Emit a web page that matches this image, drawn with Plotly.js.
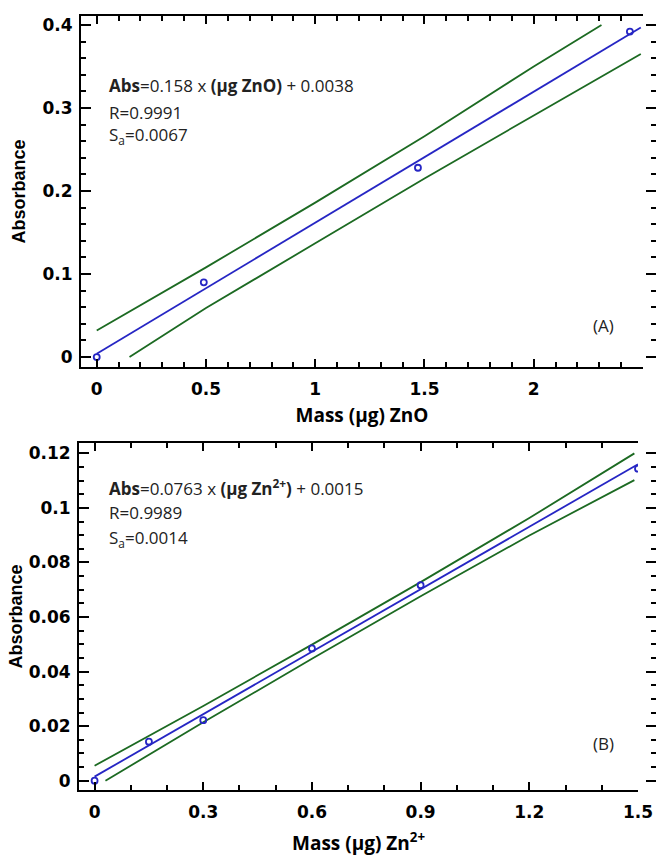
<!DOCTYPE html>
<html>
<head>
<meta charset="utf-8">
<script src="https://cdn.plot.ly/plotly-3.0.1.min.js"></script>
<style>html,body{margin:0;padding:0;background:#fff;}#chart{width:656px;height:860px;}</style>
</head>
<body>
<div id="chart"></div>
<script>
// ---- Panel (A): ZnO ----
const massA = [0, 0.49, 1.47, 2.44];
const absA = [0.000, 0.090, 0.228, 0.392];
const fitAx = [0, 2.49];
const fitAy = [0.004, 0.397];
const upperAx = [0, 0.5, 1.0, 1.5, 2.0, 2.31];
const upperAy = [0.032, 0.108, 0.186, 0.266, 0.350, 0.400];
const lowerAx = [0.15, 0.5, 1.0, 1.5, 2.0, 2.49];
const lowerAy = [0.000, 0.059, 0.137, 0.215, 0.291, 0.365];

// ---- Panel (B): Zn2+ ----
const massB = [0, 0.15, 0.3, 0.6, 0.9, 1.5];
const absB = [0.0000, 0.0143, 0.0222, 0.0485, 0.0717, 0.1144];
const fitBx = [0, 1.5];
const fitBy = [0.0015, 0.1160];
const upperBx = [0, 0.3, 0.6, 0.9, 1.2, 1.49];
const upperBy = [0.0055, 0.0274, 0.0499, 0.0728, 0.0963, 0.1200];
const lowerBx = [0.03, 0.3, 0.6, 0.9, 1.2, 1.49];
const lowerBy = [0.0000, 0.0214, 0.0447, 0.0676, 0.0899, 0.1102];

const eqA = ['<b>Abs</b>=0.158 x <b>(μg ZnO)</b> + 0.0038', 'R=0.9991', 'S<sub>a</sub>=0.0067'];
const eqB = ['<b>Abs</b>=0.0763 x <b>(μg Zn<sup>2+</sup>)</b> + 0.0015', 'R=0.9989', 'S<sub>a</sub>=0.0014'];
const panelLabels = ['(A)', '(B)'];

const BLUE = '#2626c4';
const GREEN = '#1c6a22';
const TICK = '#000';
const W = 656, H = 860;

function line(x, y, xa, ya, color) {
  return {x: x, y: y, xaxis: xa, yaxis: ya, type: 'scatter', mode: 'lines',
          line: {color: color, width: 1.8}, hoverinfo: 'skip', showlegend: false};
}
function pts(x, y, xa, ya) {
  return {x: x, y: y, xaxis: xa, yaxis: ya, type: 'scatter', mode: 'markers',
          marker: {symbol: 'circle-open', size: 6, color: BLUE, line: {width: 1.8, color: BLUE}},
          showlegend: false};
}

const traces = [
  line(upperAx, upperAy, 'x', 'y', GREEN),
  line(lowerAx, lowerAy, 'x', 'y', GREEN),
  line(fitAx, fitAy, 'x', 'y', BLUE),
  pts(massA, absA, 'x', 'y'),
  line(upperBx, upperBy, 'x2', 'y2', GREEN),
  line(lowerBx, lowerBy, 'x2', 'y2', GREEN),
  line(fitBx, fitBy, 'x2', 'y2', BLUE),
  pts(massB, absB, 'x2', 'y2'),
  {x: [], y: [], xaxis: 'x', yaxis: 'y3', type: 'scatter', showlegend: false},
  {x: [], y: [], xaxis: 'x2', yaxis: 'y4', type: 'scatter', showlegend: false}
];

const tickFont = {family: 'DejaVu Sans', size: 17, color: '#000', weight: 'bold'};
const xTitleFont = {family: 'Open Sans', size: 19, color: '#000', weight: 'bold'};
const yTitleFont = {family: 'Liberation Sans', size: 18, color: '#000', weight: 'bold'};

function xax(domain, range, dtick, mdtick, title, anchor, standoff) {
  return {domain: domain, range: range, anchor: anchor, dtick: dtick, tick0: 0,
          showline: true, linecolor: '#000', linewidth: 2, mirror: 'ticks',
          ticks: 'inside', ticklen: 8, tickwidth: 2, tickcolor: TICK,
          minor: {dtick: mdtick, tick0: 0, ticks: 'inside', ticklen: 5, tickwidth: 2, tickcolor: TICK, showgrid: false},
          showgrid: false, zeroline: false, tickfont: tickFont, ticklabelstandoff: 6,
          title: {text: title, font: xTitleFont, standoff: standoff}};
}
function yax(domain, range, dtick, mdtick, anchor, standoff) {
  return {domain: domain, range: range, anchor: anchor, dtick: dtick, tick0: 0,
          showline: true, linecolor: '#000', linewidth: 2, mirror: false,
          ticks: 'inside', ticklen: 10, tickwidth: 2, tickcolor: TICK,
          minor: {dtick: mdtick, tick0: 0, ticks: 'inside', ticklen: 5, tickwidth: 2, tickcolor: TICK, showgrid: false},
          showgrid: false, zeroline: false, tickfont: tickFont, ticklabelstandoff: 3,
          title: {text: 'Absorbance', font: yTitleFont, standoff: standoff}};
}
function rax(over, range, dtick, mdtick) {
  return {overlaying: over, side: 'right', anchor: 'free', position: 1, range: range,
          dtick: dtick, tick0: 0, showline: false, showgrid: false, zeroline: false,
          showticklabels: false, ticks: 'inside', ticklen: 10, tickwidth: 2, tickcolor: TICK,
          minor: {dtick: mdtick, tick0: 0, ticks: 'inside', ticklen: 5, tickwidth: 2, tickcolor: TICK, showgrid: false}};
}

const rangeAx = [-0.072, 2.5], rangeAy = [-0.012, 0.4108];
const rangeBx = [-0.043, 1.5], rangeBy = [-0.0034, 0.1238];

const annFont = {family: 'Open Sans', size: 17, color: '#222'};
const annotations = [];
const ayA = [86, 112, 136], ayB = [488, 512, 538];
eqA.forEach((t, i) => annotations.push({text: t, xref: 'paper', yref: 'paper', x: 107 / W, y: 1 - ayA[i] / H,
  xanchor: 'left', yanchor: 'middle', showarrow: false, font: annFont}));
eqB.forEach((t, i) => annotations.push({text: t, xref: 'paper', yref: 'paper', x: 107 / W, y: 1 - ayB[i] / H,
  xanchor: 'left', yanchor: 'middle', showarrow: false, font: annFont}));
annotations.push({text: panelLabels[0], xref: 'paper', yref: 'paper', x: 603 / W, y: 1 - 325 / H,
  xanchor: 'center', yanchor: 'middle', showarrow: false, font: annFont});
annotations.push({text: panelLabels[1], xref: 'paper', yref: 'paper', x: 603 / W, y: 1 - 743 / H,
  xanchor: 'center', yanchor: 'middle', showarrow: false, font: annFont});

const layout = {
  width: W, height: H, margin: {l: 0, r: 0, t: 0, b: 0},
  paper_bgcolor: '#fff', plot_bgcolor: '#fff', showlegend: false,
  xaxis: xax([81 / W, 643 / W], rangeAx, 0.5, 0.1, 'Mass (μg) ZnO', 'y', 10),
  yaxis: yax([1 - 367 / H, 1 - 16 / H], rangeAy, 0.1, 0.02, 'x', 12),
  xaxis2: xax([79 / W, 638 / W], rangeBx, 0.3, 0.1, 'Mass (μg) Zn<sup>2+</sup>', 'y2', 15),
  yaxis2: yax([1 - 790 / H, 1 - 443 / H], rangeBy, 0.02, 0.005, 'x2', 1),
  yaxis3: rax('y', rangeAy, 0.1, 0.02),
  yaxis4: rax('y2', rangeBy, 0.02, 0.005),
  annotations: annotations
};

Plotly.newPlot('chart', traces, layout, {staticPlot: true});
</script>
</body>
</html>
